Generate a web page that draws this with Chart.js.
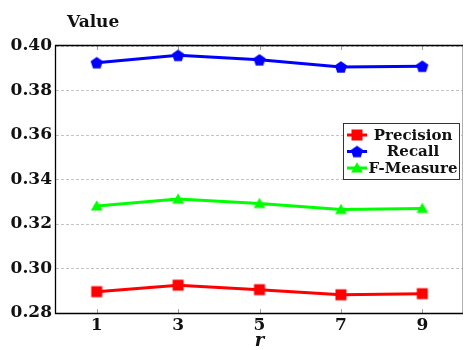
<!DOCTYPE html>
<html><head><meta charset="utf-8">
<script src="https://cdn.jsdelivr.net/npm/chart.js@4"></script>
<style>html,body{margin:0;padding:0;background:#fff}canvas{display:block}</style>
</head><body>
<canvas id="c" width="464" height="350"></canvas>
<script>
const rValues = [1, 3, 5, 7, 9];
const precision = [0.2896, 0.2925, 0.2905, 0.2882, 0.2887];
const recall = [0.3925, 0.3958, 0.3938, 0.3906, 0.3909];
const fMeasure = [0.3281, 0.3312, 0.3292, 0.3265, 0.3270];
const yTicks = [0.28, 0.30, 0.32, 0.34, 0.36, 0.38, 0.40];
const seriesNames = ['Precision', 'Recall', 'F-Measure'];
const yLabel = 'Value';
const xLabel = 'r';

const FONT = '"DejaVu Serif", "Liberation Serif", serif';

function makeMarker(kind, color) {
  const s = 16, c = document.createElement('canvas');
  c.width = s; c.height = s;
  const g = c.getContext('2d');
  g.fillStyle = color; g.beginPath();
  const cx = s / 2, cy = s / 2;
  if (kind === 'square') {
    g.rect(cx - 5.5, cy - 5.5, 11, 11);
  } else if (kind === 'pentagon') {
    const r = 6.4;
    for (let i = 0; i < 5; i++) {
      const a = -Math.PI / 2 + i * 2 * Math.PI / 5;
      const px = cx + r * Math.cos(a), py = cy + r * Math.sin(a) + 0.6;
      i ? g.lineTo(px, py) : g.moveTo(px, py);
    }
    g.closePath();
  } else {
    const r = 6.8;
    for (let i = 0; i < 3; i++) {
      const a = -Math.PI / 2 + i * 2 * Math.PI / 3;
      const px = cx + r * Math.cos(a), py = cy + r * Math.sin(a) + 1;
      i ? g.lineTo(px, py) : g.moveTo(px, py);
    }
    g.closePath();
  }
  g.fill();
  return c;
}

const colors = ['#ff0000', '#0000ff', '#00ff00'];
const markers = [makeMarker('square', colors[0]), makeMarker('pentagon', colors[1]), makeMarker('triangle', colors[2])];
const seriesValues = [precision, recall, fMeasure];

const datasets = seriesNames.map((name, i) => ({
  label: name,
  data: rValues.map((r, j) => ({ x: r, y: seriesValues[i][j] })),
  borderColor: colors[i],
  backgroundColor: colors[i],
  borderWidth: 3,
  pointStyle: markers[i],
  pointRadius: 6,
  tension: 0,
  fill: false
}));

const framePlugin = {
  id: 'frame',
  beforeDatasetsDraw(chart) {
    const { ctx, chartArea: a, scales: { x } } = chart;
    ctx.save();
    ctx.strokeStyle = '#a0a0a0'; ctx.lineWidth = 1;
    x.ticks.forEach(t => {
      const px = Math.round(x.getPixelForValue(t.value)) + 0.5;
      ctx.beginPath();
      ctx.moveTo(px, a.top); ctx.lineTo(px, a.top + 4);
      ctx.moveTo(px, a.bottom); ctx.lineTo(px, a.bottom - 4);
      ctx.stroke();
    });
    ctx.strokeStyle = '#b0b0b0';
    ctx.beginPath(); ctx.moveTo(a.right - 0.5, a.top); ctx.lineTo(a.right - 0.5, a.bottom); ctx.stroke();
    ctx.strokeStyle = '#000'; ctx.lineWidth = 1.3;
    ctx.beginPath();
    ctx.moveTo(a.right, a.top - 0.5); ctx.lineTo(a.left - 0.5, a.top - 0.5);
    ctx.lineTo(a.left - 0.5, a.bottom + 0.5); ctx.lineTo(a.right, a.bottom + 0.5);
    ctx.stroke();
    ctx.restore();
  },
  afterDraw(chart) {
    const { ctx, chartArea: a } = chart;
    ctx.save();
    ctx.fillStyle = '#111';
    ctx.textBaseline = 'alphabetic';
    ctx.font = 'bold 17px ' + FONT;
    ctx.textAlign = 'left';
    ctx.fillText(yLabel, 67, 27);
    ctx.font = 'italic bold 18px ' + FONT;
    ctx.textAlign = 'center';
    ctx.fillText(xLabel, (a.left + a.right) / 2, 346);
    // legend
    const bx = a.right - 120, by = a.top + 77, bw = 116, bh = 56;
    ctx.fillStyle = '#fff';
    ctx.fillRect(bx, by, bw, bh);
    ctx.strokeStyle = '#333'; ctx.lineWidth = 1;
    ctx.strokeRect(bx + 0.5, by + 0.5, bw, bh);
    chart.data.datasets.forEach((ds, i) => {
      const ry = by + 12 + i * 16.5;
      ctx.strokeStyle = ds.borderColor; ctx.lineWidth = 3;
      ctx.beginPath(); ctx.moveTo(bx + 4, ry); ctx.lineTo(bx + 24, ry); ctx.stroke();
      const m = ds.pointStyle;
      ctx.drawImage(m, bx + 14 - m.width / 2, ry - m.height / 2);
      ctx.fillStyle = '#111';
      ctx.font = 'bold 15px ' + FONT;
      ctx.textAlign = 'center'; ctx.textBaseline = 'middle';
      ctx.fillText(ds.label, bx + 70, ry + 1);
    });
    ctx.restore();
  }
};

new Chart(document.getElementById('c'), {
  type: 'line',
  data: { datasets },
  options: {
    responsive: false,
    animation: false,
    layout: { autoPadding: false, padding: { top: 46, right: 1, left: 0, bottom: 0 } },
    plugins: { legend: { display: false }, tooltip: { enabled: false }, title: { display: false } },
    scales: {
      x: {
        type: 'linear', min: 0, max: 10,
        afterBuildTicks(s) { s.ticks = rValues.map(v => ({ value: v })); },
        afterFit(s) { s.height = 37; s.paddingLeft = 0; s.paddingRight = 0; },
        grid: { display: false, drawTicks: false },
        border: { display: false },
        ticks: { padding: 2, color: '#111', font: { family: FONT, size: 17, weight: 'bold' }, maxRotation: 0 }
      },
      y: {
        type: 'linear', min: 0.28, max: 0.40,
        afterBuildTicks(s) { s.ticks = yTicks.map(v => ({ value: v })); },
        afterFit(s) { s.width = 56; s.paddingTop = 0; s.paddingBottom = 0; },
        grid: { color: '#c4c4c4', lineWidth: 1, drawTicks: false },
        border: { display: false, dash: [3, 2] },
        ticks: { padding: 4, color: '#111', font: { family: FONT, size: 17, weight: 'bold' },
          callback: v => Number(v).toFixed(2) }
      }
    }
  },
  plugins: [framePlugin]
});
</script>
</body></html>
